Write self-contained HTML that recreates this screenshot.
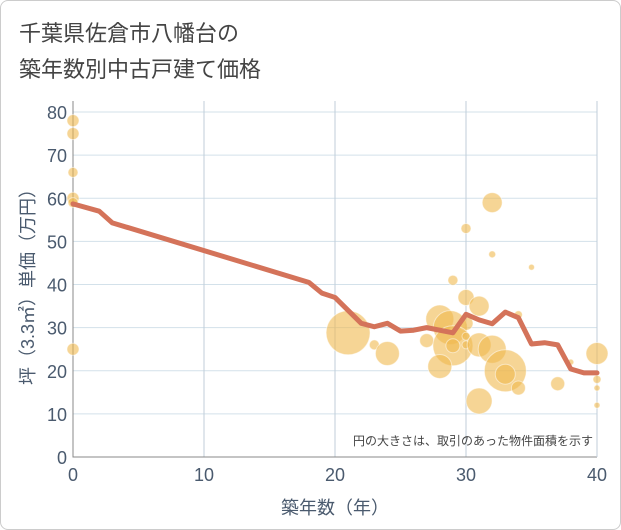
<!DOCTYPE html>
<html><head><meta charset="utf-8"><style>
body{margin:0;background:#fff;}
#wrap{position:relative;width:619px;height:528px;border:1px solid #ccc;border-radius:8px;background:#fff;overflow:hidden;font-family:"Liberation Sans","Noto Sans CJK JP",sans-serif;}
</style></head><body>
<div id="wrap">
<svg id="chart" width="621" height="530"></svg>
</div>
<script>
const xTicks=[0,10,20,30,40];
const yTicks=[0,10,20,30,40,50,60,70,80];
const lineX=[0,2,3,18,19,20,22,23,24,25,26,27,29,30,31,32,33,34,35,36,37,38,39,40];
const lineY=[58.7,57,54.3,40.5,38,37,31,30.2,31,29.2,29.4,30,28.8,33.1,31.8,30.9,33.6,32.3,26.2,26.5,26,20.4,19.5,19.5];
const bubX=[0,0,0,0,0,0,32,30,32,35,29,30,31,28,28.8,30,21,23,24,27,29,29,30,30,31,32,28,33,33,34,31,34,37,38,40,40,40,40];
const bubY=[78,75,66,60,59,25,59,53,47,44,41,37,35,32,30,31,28.8,26,24,27,25.8,25.8,28,26,26,25,21,20,19.2,16,13,33,17,22,24,18,16,12];
const bubR=[6,6,5,6,5,6,10,5,3.5,3,5,8,10,14,17,7,22,5,12,7,20,7,4,4,12,14,12,21,10,7,13,4,7,3,11,4,3,3];
const NS='http://www.w3.org/2000/svg';
const svg=document.getElementById('chart');
const L=72,R=596,T=111,B=456;
const sx=v=>L+(v-0)/40*(R-L);
const sy=v=>B-(v/80)*(B-T);
function mk(tag,attrs,parent){const e=document.createElementNS(NS,tag);for(const k in attrs)e.setAttribute(k,attrs[k]);(parent||svg).appendChild(e);return e;}
const t1=mk('text',{x:18,y:40,'font-size':22,fill:'#444'});t1.textContent='千葉県佐倉市八幡台の';

const t2=mk('text',{x:18,y:76,'font-size':22,fill:'#444'});t2.textContent='築年数別中古戸建て価格';

yTicks.forEach(v=>{const g=mk('line',{x1:L,x2:R,y1:sy(v),y2:sy(v),stroke:'#d3e1ea','stroke-width':1});

const tx=mk('text',{x:L-6,y:sy(v)+7,'font-size':18,fill:'#4a5a6e','text-anchor':'end'});tx.textContent=v;
});
xTicks.forEach(v=>{if(v>0){const g=mk('line',{x1:sx(v),x2:sx(v),y1:100,y2:B,stroke:'#c0ceda','stroke-width':1});
}
const tx=mk('text',{x:sx(v),y:B+24,'font-size':18,fill:'#4a5a6e','text-anchor':'middle'});tx.textContent=v;
});
const ax=mk('path',{d:`M${L} 100 V${B} H${R}`,stroke:'#888',fill:'none','stroke-width':1});

mk('line',{x1:R,x2:R,y1:100,y2:B,stroke:'#c0ceda'});
const bg=mk('g',{});
bubX.forEach((x,i)=>{const c=mk('circle',{cx:sx(x),cy:sy(bubY[i]),r:bubR[i],fill:'#f0b94f','fill-opacity':0.6,stroke:'#fff','stroke-opacity':0.5,'stroke-width':1},bg);
});
const d=lineX.map((x,i)=>(i?'L':'M')+sx(x)+' '+sy(lineY[i])).join(' ');
const ln=mk('path',{d:d,stroke:'#d4735a',fill:'none','stroke-width':5,'stroke-linejoin':'round','stroke-linecap':'round'});

const nt=mk('text',{x:592,y:444,'font-size':12,fill:'#444','text-anchor':'end'});nt.textContent='円の大きさは、取引のあった物件面積を示す';

const xt=mk('text',{x:(L+R)/2,y:513,'font-size':18,fill:'#4a5a6e','text-anchor':'middle'});xt.textContent='築年数（年）';

const yt=mk('text',{x:0,y:0,'font-size':18,fill:'#4a5a6e','text-anchor':'middle',transform:`translate(33 ${(T+B)/2-2}) rotate(-90)`});yt.textContent='坪（3.3㎡）単価（万円）';

</script>
</body></html>
